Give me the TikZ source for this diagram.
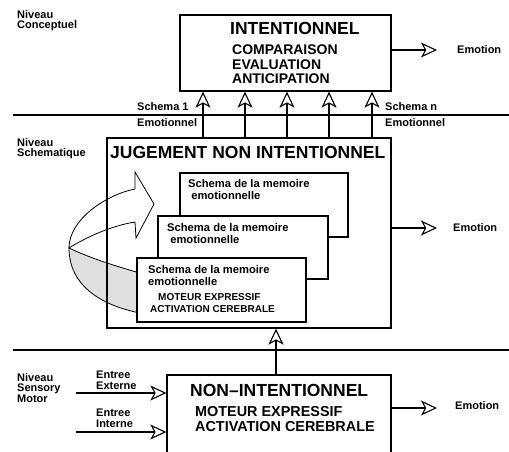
\documentclass[tikz,border=0pt]{standalone}
\usepackage{fontspec}
\setmainfont{Liberation Sans}
\usetikzlibrary{arrows.meta, positioning}

\begin{document}
\begin{tikzpicture}[x=1pt, y=-1pt,
		box/.style={draw, line width=1.3pt, fill=white, inner sep=0pt},
		arr/.style={-{Stealth[open, length=16pt, width=15pt, inset=4pt, line width=1.1pt]}, line width=1.2pt},
		sep/.style={line width=1.4pt},
		lbl/.style={inner sep=0pt, align=left, font=\fontsize{11}{10.5}\selectfont\bfseries},
		mem/.style={inner sep=0pt, align=left, font=\fontsize{11.2}{12.6}\selectfont\bfseries},
		tiny/.style={inner sep=0pt, font=\fontsize{10}{12}\selectfont\bfseries},
		big/.style={inner sep=0pt, align=left, font=\fontsize{14}{14.5}\selectfont\bfseries},
		title/.style={inner sep=0pt, font=\fontsize{17.5}{20}\selectfont\bfseries}]
			\clip (0,0) rectangle (509,451);
			
			\draw[sep] (13,115) -- (509,115);
			\draw[sep] (13,350) -- (509,350);
			
			\node[lbl, anchor=north west] (lvlc) at (17,10) {Niveau\\Conceptuel};
			\node[lbl, anchor=north west] (lvls) at (17,138) {Niveau\\Schematique};
			\node[lbl, anchor=north west] (lvlm) at (17,373) {Niveau\\Sensory\\Motor};
			
			\node[box, minimum width=211pt, minimum height=76pt] (intent) at (285.5,53) {};
			\node[title, anchor=west] (intitle) at (230,28) {INTENTIONNEL};
			\node[big, anchor=north west] (inlist) at (232,45) {COMPARAISON\\EVALUATION\\ANTICIPATION};
			\node[lbl, anchor=west] (emoa) at (457,50) {Emotion};
			
			\node[lbl, anchor=west] (schun) at (137,107) {Schema 1};
			\node[lbl, anchor=west] (emoun) at (137,123) {Emotionnel};
			\node[lbl, anchor=west] (schn) at (385,107) {Schema n};
			\node[lbl, anchor=west] (emon) at (385,123) {Emotionnel};
			
			\filldraw[fill=gray!25, line width=0.8pt] (69,248) .. controls (90,258) and (115,266) .. (140,273)
				-- (140,313) .. controls (100,305) and (69,285) .. (69,248) -- cycle;
			\filldraw[fill=white, line width=0.8pt] (135,222) -- (136,238) -- (154,204) -- (135,172) -- (135,189)
				.. controls (105,195) and (69,220) .. (69,248) .. controls (85,238) and (110,226) .. (135,222) -- cycle;
			
			\node[box, fill=none, minimum width=284pt, minimum height=190pt] (jug) at (249,233) {};
			\node[title, anchor=west] (jugtitle) at (110,152) {JUGEMENT NON INTENTIONNEL};
			\node[lbl, anchor=west] (emob) at (453,228) {Emotion};
			
			\node[box, minimum width=168pt, minimum height=64pt] (sma) at (264,205) {};
			\node[mem, anchor=north west] (smatxt) at (188,179) {Schema de la memoire\\\ emotionnelle};
			\node[box, minimum width=170pt, minimum height=63pt] (smb) at (243,247.5) {};
			\node[mem, anchor=north west] (smbtxt) at (167,223) {Schema de la memoire\\\ emotionnelle};
			\node[box, minimum width=169pt, minimum height=64pt] (smc) at (221.5,290) {};
			\node[mem, anchor=north west] (smctxt) at (148,265) {Schema de la memoire\\emotionnelle};
			\node[tiny, anchor=west] (smcmot) at (158,297) {MOTEUR EXPRESSIF};
			\node[tiny, anchor=west] (smcact) at (150,309) {ACTIVATION CEREBRALE};
			
			\node[box, minimum width=224pt, minimum height=95pt] (noni) at (279,422.5) {};
			\node[title, anchor=west] (nonititle) at (190,390) {NON--INTENTIONNEL};
			\node[big, anchor=north west, font=\fontsize{14.4}{15}\selectfont\bfseries] (nonitxt) at (195,406.5) {MOTEUR EXPRESSIF\\ACTIVATION CEREBRALE};
			\node[lbl, anchor=west] (emoc) at (455,406) {Emotion};
			
			\node[lbl, anchor=north west] (extlbl) at (96,371) {Entree\\Externe};
			\node[lbl, anchor=north west] (intlbl) at (96,409) {Entree\\Interne};
			\coordinate (ext) at (76,393);
			\coordinate (int) at (76,432);
			\coordinate (link) at (276,0);
			\foreach \x [count=\i] in {203,245,287,329,372}
				\coordinate (s\i) at (\x,0);
			
			\foreach \i in {1,...,5}
				\draw[arr] (jug.north -| s\i) -- (intent.south -| s\i);
			\draw[arr] (noni.north -| link) -- (jug.south -| link);
			\draw[arr] (intent.east |- emoa.west) -- ([xshift=-20pt]emoa.west);
			\draw[arr] (jug.east |- emob.west) -- ([xshift=-16pt]emob.west);
			\draw[arr] ([yshift=-2pt]noni.east |- emoc.west) -- ([xshift=-18pt, yshift=-2pt]emoc.west);
			\draw[arr] (ext) -- (ext -| noni.west);
			\draw[arr] (int) -- (int -| noni.west);
		\end{tikzpicture}
\end{document}
